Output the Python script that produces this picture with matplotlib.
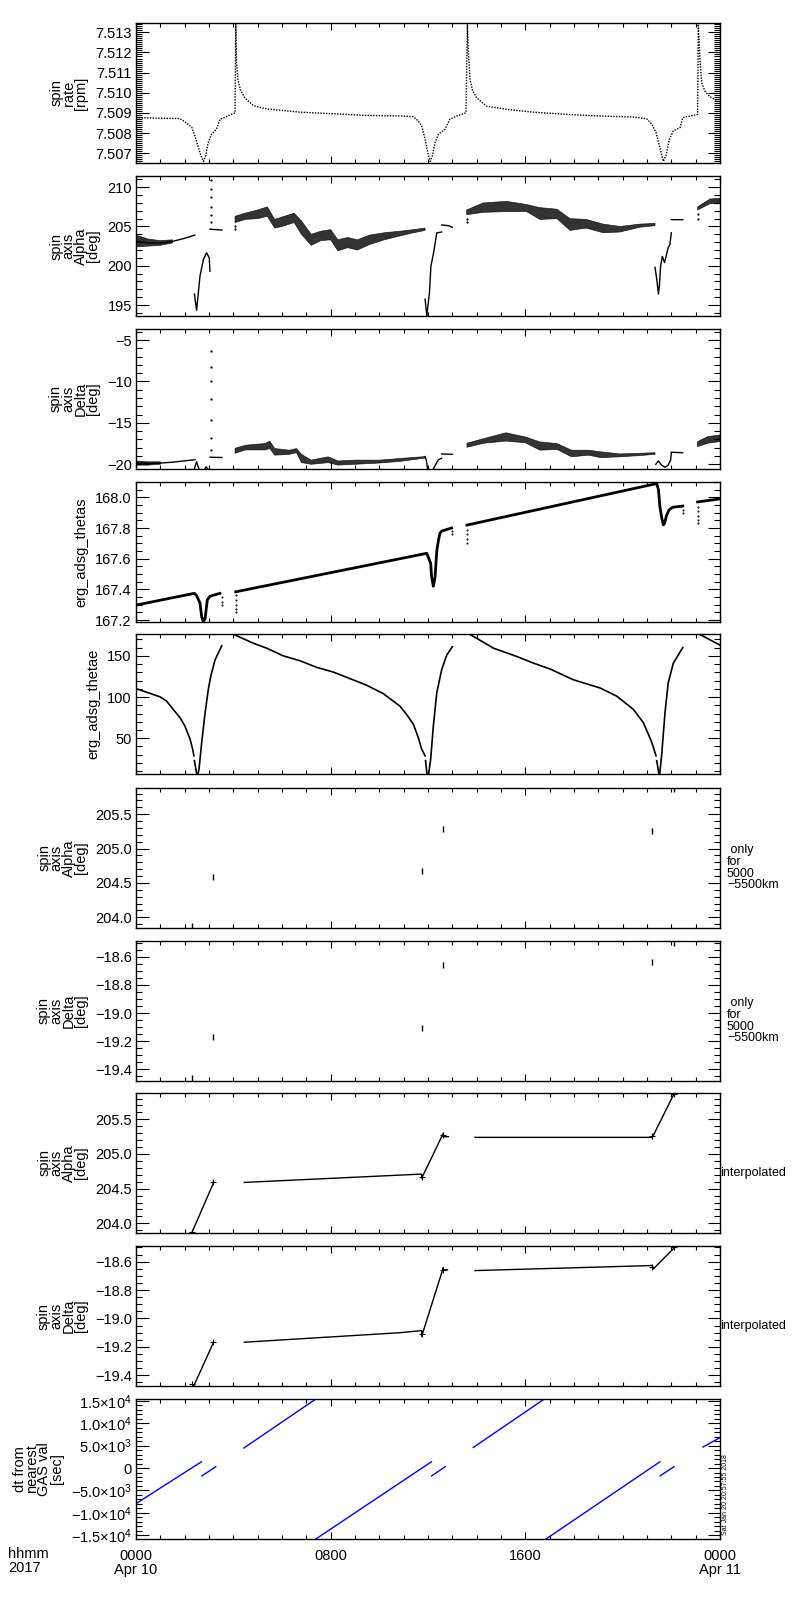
import numpy as np
import matplotlib.pyplot as plt
from matplotlib.ticker import MultipleLocator, FuncFormatter

nan = np.nan

# spin rate [rpm], hours since 2017-04-10 00:00
rate_t = [0.0, 1.81, 2.08, 2.29, 2.42, 2.56, 2.67, 2.77, 2.86, 2.97, 3.11, 3.31, 3.45, 3.72, 4.07,
          4.10, 4.13, 4.19, 4.29, 4.47, 4.82, 5.37, 6.74, 8.11, 9.48, 10.85, 11.4, 11.6, 11.74, 11.88,
          11.99, 12.09, 12.18, 12.29, 12.43, 12.7, 12.9, 13.18, 13.56,
          13.62, 13.66, 13.73, 13.84, 14.0, 14.4, 15.23, 16.33, 17.7, 19.07, 20.44, 20.99, 21.2, 21.37,
          21.51, 21.67, 21.78, 21.92, 22.08, 22.36, 22.47, 23.08,
          23.11, 23.18, 23.25, 23.38, 23.59, 23.8, 24.0]
rate_v = [7.50877, 7.50872, 7.50850, 7.50829, 7.50787, 7.50730, 7.50688, 7.50660, 7.50688, 7.50754,
          7.50795, 7.50820, 7.50869, 7.50882, 7.50901,
          7.51340, 7.51150, 7.51065, 7.51016, 7.50975, 7.50937, 7.50920, 7.50904, 7.50896, 7.50888,
          7.50885, 7.50882, 7.50860, 7.50836, 7.50770, 7.50704, 7.50660, 7.50688, 7.50754, 7.50795,
          7.50820, 7.50869, 7.50885, 7.50901,
          7.51340, 7.51197, 7.51065, 7.51008, 7.50975, 7.50934, 7.50918, 7.50904, 7.50893, 7.50885,
          7.50880, 7.50871, 7.50844, 7.50803, 7.50737, 7.50660, 7.50688, 7.50770, 7.50811, 7.50828,
          7.50877, 7.50893,
          7.51340, 7.51164, 7.51049, 7.51008, 7.50980, 7.50967, 7.50951]

# spin axis alpha [deg]
alpha_line_t = [0.0, 0.5, 1.0, 1.5, 2.0, 2.42, nan,
                2.40, 2.49, 2.63, 2.77, 2.90, 3.01, 3.04, nan,
                3.04, 3.53, nan,
                11.88, 11.95, 12.06, 12.12, 12.23, 12.36, 12.56, nan,
                12.56, 12.85, 13.0, nan,
                21.33, 21.40, 21.47, 21.51, 21.56, 21.63, 21.72, 21.77, 21.87, 21.94, 22.0, nan,
                22.0, 22.47]
alpha_line_v = [203.1, 202.9, 202.9, 203.1, 203.5, 203.9, nan,
                196.4, 194.3, 198.7, 200.8, 201.65, 201.0, 199.3, nan,
                204.65, 204.55, nan,
                195.75, 193.6, 196.6, 199.96, 201.65, 204.18, 204.3, nan,
                205.2, 205.1, 204.9, nan,
                199.8, 198.3, 196.4, 197.5, 200.0, 201.2, 200.4, 201.0, 202.3, 202.7, 204.2, nan,
                205.87, 205.87]
alpha_band_t = [0.0, 0.5, 1.0, 1.5, nan,
                4.07, 4.5, 5.0, 5.4, 5.7, 6.0, 6.5, 6.8, 7.2, 7.6, 8.0, 8.3, 8.7, 9.1, 9.6, 10.2, 10.85, 11.4, 11.88, nan,
                13.59, 14.27, 15.23, 16.05, 16.6, 17.3, 17.84, 18.5, 19.2, 19.9, 20.7, 21.33, nan,
                23.08, 23.59, 24.0]
alpha_band_lo = [202.4, 202.5, 202.6, 202.9, nan,
                 205.5, 205.9, 206.0, 206.3, 204.8, 205.0, 205.5, 204.0, 202.6, 203.2, 203.3, 201.9, 202.3, 202.0, 202.7, 203.3, 203.8, 204.2, 204.5, nan,
                 206.5, 206.8, 206.9, 206.9, 205.9, 206.0, 204.5, 204.8, 204.2, 204.3, 204.9, 205.1, nan,
                 207.1, 207.9, 207.9]
alpha_band_hi = [203.9, 203.4, 203.2, 203.3, nan,
                 206.3, 206.7, 207.1, 207.5, 205.9, 206.2, 206.7, 205.7, 204.0, 204.4, 204.6, 203.3, 203.6, 203.3, 203.9, 204.2, 204.4, 204.6, 204.8, nan,
                 207.1, 208.0, 208.2, 207.8, 207.4, 207.2, 206.0, 205.9, 205.3, 205.0, 205.3, 205.4, nan,
                 207.5, 208.5, 208.6]
alpha_dot_t = [3.08, 3.08, 3.08, 3.08, 3.08, 3.08, 4.07, 4.07, 13.59, 13.59, 23.08, 23.08]
alpha_dot_v = [210.9, 209.8, 208.7, 207.5, 206.5, 205.6, 205.1, 204.7, 206.0, 205.6, 206.6, 206.0]

# spin axis delta [deg]
delta_line_t = [0.0, 0.5, 1.0, 1.5, 2.42, nan,
                2.38, 2.49, 2.60, nan,
                2.80, 2.88, 2.99, nan,
                3.04, 3.53, nan,
                11.88, 11.93, 11.99, 12.2, 12.3, 12.43, 12.56, nan,
                12.56, 13.0, nan,
                21.36, 21.47, 21.6, 21.74, 21.87, 21.97, 22.0, nan,
                22.0, 22.47]
delta_line_v = [-19.85, -19.9, -19.85, -19.75, -19.45, nan,
                -20.7, -19.7, -20.7, nan,
                -20.7, -20.3, -20.7, nan,
                -19.15, -19.18, nan,
                -19.07, -19.5, -20.7, -20.7, -20.1, -19.45, -19.27, nan,
                -18.75, -18.8, nan,
                -20.0, -19.6, -20.1, -20.36, -20.1, -19.5, -18.67, nan,
                -18.55, -18.6]
delta_band_t = [0.0, 0.5, 1.0, nan,
                4.07, 4.5, 5.3, 5.5, 5.7, 6.3, 6.6, 6.8, 7.2, 7.9, 8.3, 9.0, 10.0, 10.85, 11.88, nan,
                13.6, 14.3, 15.2, 16.0, 16.6, 17.3, 17.9, 18.6, 19.1, 19.9, 20.7, 21.33, nan,
                23.08, 23.5, 24.0]
delta_band_lo = [-20.1, -20.1, -20.0, nan,
                 -18.67, -18.27, -18.27, -18.1, -18.9, -18.8, -18.6, -19.8, -20.0, -19.8, -20.1, -20.0, -19.85, -19.65, -19.25, nan,
                 -17.95, -17.46, -17.2, -17.4, -18.3, -18.2, -19.1, -18.9, -19.2, -19.1, -18.95, -18.8, nan,
                 -17.87, -17.46, -17.26]
delta_band_hi = [-19.6, -19.7, -19.7, nan,
                 -18.07, -17.7, -17.5, -17.2, -18.1, -18.3, -18.1, -18.8, -19.5, -19.1, -19.6, -19.5, -19.5, -19.3, -19.07, nan,
                 -17.46, -16.9, -16.2, -16.7, -17.3, -17.5, -18.3, -18.3, -18.5, -18.75, -18.67, -18.6, nan,
                 -17.26, -16.66, -16.46]
delta_dot_t = [3.08, 3.08, 3.08, 3.08, 3.08, 3.08, 3.08]
delta_dot_v = [-6.33, -8.2, -9.95, -12.16, -14.65, -16.78, -18.27]

# erg_adsg_thetas
thetas_t = [0.0, 2.40, 2.49, 2.63, 2.70, 2.77, 2.84, 2.93, 3.04, 3.45, nan,
            4.10, 11.95, 12.11, 12.15, 12.22, 12.29, 12.36, 12.43, 12.49, 12.56, 12.97, nan,
            13.60, 21.40, 21.47, 21.53, 21.60, 21.67, 21.72, 21.80, 21.90, 22.05, 22.47, nan,
            23.08, 24.0]
thetas_v = [167.297, 167.374, 167.36, 167.31, 167.22, 167.19, 167.21, 167.33, 167.355, 167.374, nan,
            167.384, 167.635, 167.57, 167.48, 167.42, 167.48, 167.65, 167.72, 167.765, 167.78, 167.80, nan,
            167.819, 168.09, 168.05, 167.94, 167.87, 167.82, 167.83, 167.88, 167.917, 167.935, 167.943, nan,
            167.97, 167.99]
thetas_dot_t = [3.52, 3.52, 3.52, 4.10, 4.10, 4.10, 4.10, 4.10, 13.0, 13.0, 13.6, 13.6, 13.6, 13.6,
                22.47, 22.47, 23.08, 23.08, 23.08, 23.08, 23.08]
thetas_dot_v = [167.35, 167.32, 167.30, 167.36, 167.33, 167.30, 167.27, 167.25, 167.78, 167.76,
                167.79, 167.76, 167.73, 167.70, 167.92, 167.90, 167.94, 167.91, 167.88, 167.85, 167.83]

# erg_adsg_thetae
thetae_t = [0.0, 0.44, 0.99, 1.26, 1.53, 1.81, 2.01, 2.22, 2.33, 2.38, nan,
            2.40, 2.52, 2.59, 2.70, 2.84, 2.97, 3.07, 3.25, 3.52, nan,
            4.02, 4.07, 4.82, 5.37, 6.05, 6.74, 7.43, 8.11, 8.80, 9.48, 10.16, 10.85, 11.12, 11.40,
            11.60, 11.74, 11.88, nan,
            11.90, 11.97, 12.01, 12.11, 12.22, 12.36, 12.56, 12.77, 13.0, nan,
            13.59, 14.0, 14.69, 15.65, 16.33, 17.02, 17.97, 19.07, 19.76, 20.44, 20.85, 21.2, 21.37, nan,
            21.40, 21.51, 21.60, 21.74, 21.87, 22.08, 22.47, nan,
            23.04, 24.0]
thetae_v = [110.2, 105.8, 100.2, 95.0, 85.0, 74.9, 64.9, 49.0, 36.7, 28.7, nan,
            22.7, 3.0, 12.6, 44.8, 81.0, 109.0, 125.0, 145.2, 162.0, nan,
            178.0, 175.3, 165.3, 159.3, 150.0, 144.0, 136.0, 130.3, 122.3, 114.3, 104.2, 88.9, 78.9, 66.9,
            50.8, 36.7, 28.7, nan,
            22.7, 3.0, 3.0, 24.7, 64.9, 105.0, 133.0, 151.0, 161.0, nan,
            178.0, 171.3, 159.3, 149.2, 141.2, 134.0, 121.0, 111.0, 101.0, 85.0, 68.9, 44.8, 28.7, nan,
            22.7, 3.0, 28.7, 81.0, 117.0, 141.0, 160.0, nan,
            178.0, 163.0]

# spin axis at 5000-5500 km (measured points)
pt_t = [2.29, 3.18, 11.74, 12.63, 21.22, 22.1]
pt_alpha = [203.87, 204.59, 204.67, 205.28, 205.26, 205.87]
pt_delta = [-19.46, -19.168, -19.108, -18.658, -18.635, -18.50]

# interpolated spin axis
ia_t = [2.29, 3.18, nan, 4.45, 11.74, 11.74, 12.63, 12.63, 12.84, nan, 13.93, 21.22, 22.1]
ia_v = [203.86, 204.58, nan, 204.59, 204.71, 204.65, 205.30, 205.25, 205.25, nan, 205.24, 205.24, 205.86]
id_t = [2.36, 3.18, nan, 4.45, 10.85, 11.74, 11.74, 12.63, 12.63, 12.8, nan,
        13.93, 14.55, 16.6, 18.65, 20.7, 21.22, 21.25, 22.1, 22.13]
id_v = [-19.48, -19.17, nan, -19.167, -19.10, -19.085, -19.125, -18.642, -18.658, -18.658, nan,
        -18.663, -18.66, -18.65, -18.64, -18.63, -18.627, -18.653, -18.506, -18.49]

# dt from nearest GAS val [sec]
dt_t = [0.0, 2.69, nan, 2.71, 3.28, nan, 4.43, 7.39, nan, 7.39, 12.14, nan, 12.15, 12.71, nan,
        13.86, 16.78, nan, 16.85, 21.53, nan, 21.54, 22.11, nan, 23.30, 24.0]
dt_v = [-7960, 1400, nan, -1750, 300, nan, 4470, 15450, nan, -15880, 1400, nan, -1750, 300, nan,
        4600, 15450, nan, -15880, 1400, nan, -1750, 300, nan, 4700, 6800]

xtick_pos = [0, 8, 16, 24]
xtick_lab = ['0000\nApr 10', '0800', '1600', '0000\nApr 11']

ylabels = ['spin\nrate\n[rpm]', 'spin\naxis\nAlpha\n[deg]', 'spin\naxis\nDelta\n[deg]',
           'erg_adsg_thetas', 'erg_adsg_thetae', 'spin\naxis\nAlpha\n[deg]', 'spin\naxis\nDelta\n[deg]',
           'spin\naxis\nAlpha\n[deg]', 'spin\naxis\nDelta\n[deg]', 'dt from\nnearest\nGAS val\n[sec]']
notes = [None, None, None, None, None, ' only\nfor\n5000\n\u22125500km', ' only\nfor\n5000\n\u22125500km',
         'interpolated', 'interpolated', None]
ylims = [(7.50652, 7.51346), (193.6, 211.43), (-20.57, -3.67), (167.187, 168.1), (6.6, 176.5),
         (203.845, 205.88), (-19.483, -18.488), (203.86, 205.88), (-19.475, -18.49), (-15880, 15450)]
ysteps = [(0.001, 0.0001), (5, 1), (5, 1), (0.2, 0.05), (50, 10),
          (0.5, 0.1), (0.2, 0.05), (0.5, 0.1), (0.2, 0.05), (5000, 1000)]
ydec = [3, 0, 0, 1, 0, 1, 1, 1, 1, None]


def plain(nd):
    return FuncFormatter(lambda v, p: f'{v:.{nd}f}'.replace('-', '\u2212'))


def sci(v, p):
    if abs(v) < 1:
        return '0'
    e = int(np.floor(np.log10(abs(v)) + 1e-9))
    m = f'{v / 10**e:.1f}'.replace('-', '\u2212')
    return m + '\u00d710$^{' + str(e) + '}$'


plt.rcParams['font.family'] = ['Liberation Sans', 'DejaVu Sans']
plt.rcParams['mathtext.fontset'] = 'custom'
plt.rcParams['mathtext.rm'] = 'Liberation Sans'
plt.rcParams['mathtext.it'] = 'Liberation Sans'
fig = plt.figure(figsize=(8, 16), dpi=100)
tops = [23, 176, 329, 482, 634, 788, 941, 1093, 1246, 1399]
axes = []
for i, top in enumerate(tops):
    ax = fig.add_axes([136 / 800, 1 - (top + 140) / 1600, 584 / 800, 140 / 1600])
    ax.set_xlim(0, 24)
    ax.set_ylim(*ylims[i])
    ax.xaxis.set_major_locator(MultipleLocator(8))
    ax.xaxis.set_minor_locator(MultipleLocator(1))
    ax.yaxis.set_major_locator(MultipleLocator(ysteps[i][0]))
    ax.yaxis.set_minor_locator(MultipleLocator(ysteps[i][1]))
    ax.yaxis.set_major_formatter(plain(ydec[i]) if ydec[i] is not None else FuncFormatter(sci))
    ax.tick_params(which='both', direction='in', top=True, right=True, labelbottom=False,
                   width=0.8, colors='k')
    ax.tick_params(axis='x', which='major', length=5)
    ax.tick_params(axis='x', which='minor', length=3)
    ax.tick_params(axis='y', which='major', length=9, labelsize=10.5, pad=3)
    ax.tick_params(axis='y', which='minor', length=4.5)
    for s in ax.spines.values():
        s.set_linewidth(1.0)
    ax.set_ylabel(ylabels[i], fontsize=10.5, linespacing=0.85, labelpad=5)
    if notes[i]:
        ax.text(1.0 if notes[i] == 'interpolated' else 1.012, 0.43, notes[i], transform=ax.transAxes,
                ha='left', va='center', fontsize=9, linespacing=0.95)
    axes.append(ax)

k = 'k'
axes[0].plot(rate_t, rate_v, color=k, lw=1.0, ls=(0, (1, 1)))

axes[1].fill_between(alpha_band_t, alpha_band_lo, alpha_band_hi, color=k, lw=0.5, alpha=0.8)
axes[1].plot(alpha_line_t, alpha_line_v, color=k, lw=1.0)
axes[1].plot(alpha_dot_t, alpha_dot_v, 'k.', ms=1.2)

axes[2].fill_between(delta_band_t, delta_band_lo, delta_band_hi, color=k, lw=0.5, alpha=0.8)
axes[2].plot(delta_line_t, delta_line_v, color=k, lw=1.0)
axes[2].plot(delta_dot_t, delta_dot_v, 'k.', ms=1.2)

axes[3].plot(thetas_t, thetas_v, color=k, lw=2.0)
axes[3].plot(thetas_dot_t, thetas_dot_v, 'k.', ms=1.0)

axes[4].plot(thetae_t, thetae_v, color=k, lw=1.2)

axes[5].plot(pt_t, pt_alpha, 'k|', ms=4, mew=1.0)
axes[6].plot(pt_t, pt_delta, 'k|', ms=4, mew=1.0)

axes[7].plot(ia_t, ia_v, color=k, lw=1.0)
axes[7].plot(pt_t, pt_alpha, 'k+', ms=4, mew=0.8)
axes[8].plot(id_t, id_v, color=k, lw=1.0)
axes[8].plot(pt_t, pt_delta, 'k+', ms=4, mew=0.8)

axes[9].plot(dt_t, dt_v, color='blue', lw=1.0)
axes[9].set_xticks(xtick_pos)
axes[9].set_xticklabels(xtick_lab, fontsize=10.5, linespacing=1.0)
axes[9].tick_params(axis='x', labelbottom=True, pad=7)

fig.text(8 / 800, 1 - 1547 / 1600, 'hhmm\n2017', ha='left', va='top', fontsize=10.5, linespacing=1.0)
fig.text(722 / 800, 1 - 1495 / 1600, 'Sat Jan 20 20:57:55 2018', rotation=90, ha='left', va='center',
         fontsize=5)

fig.savefig('out.png', dpi=100)
